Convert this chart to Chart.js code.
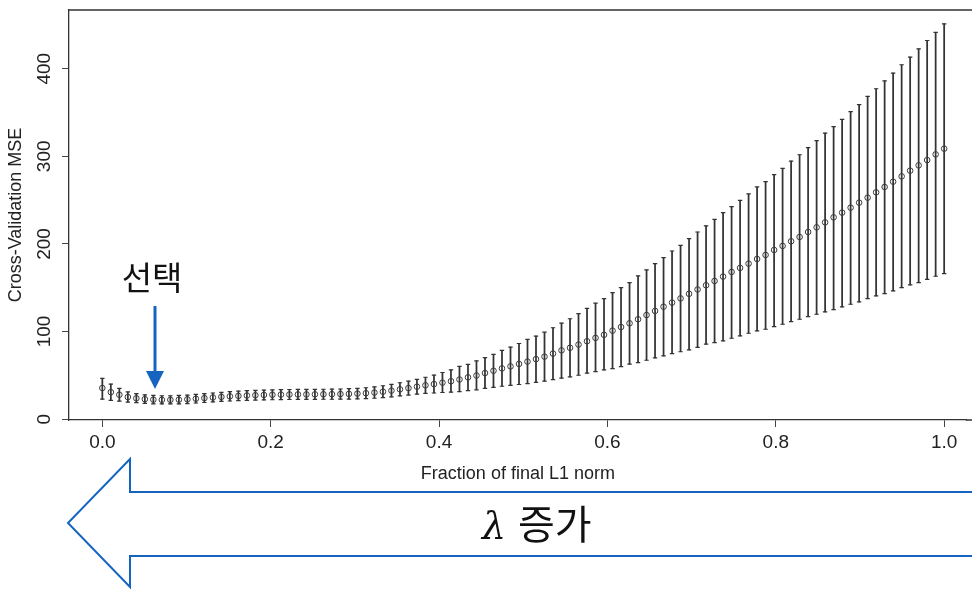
<!DOCTYPE html>
<html>
<head>
<meta charset="utf-8">
<script src="https://cdn.jsdelivr.net/npm/chart.js@4.4.1/dist/chart.umd.min.js"></script>
<style>
  body { margin: 0; background: #fff; }
  #wrap { position: relative; width: 972px; height: 589px; }
  #note { position: absolute; left: 0; top: 0; }
</style>
</head>
<body>
<div id="wrap">
  <canvas id="cvChart" width="972" height="589"></canvas>
  <svg id="note" width="972" height="589" viewBox="0 0 972 589">
    <text x="152" y="290" font-family="Noto Sans CJK KR" font-size="33" text-anchor="middle" fill="#111">선택</text>
    <line x1="155" y1="306" x2="155" y2="373" stroke="#1565c0" stroke-width="3"/>
    <polygon points="146,371 164,371 155,389" fill="#1565c0"/>
    <polygon points="68,523 130,459 130,492 985,492 985,556 130,556 130,587" fill="none" stroke="#1565c0" stroke-width="2"/>
    <text x="482" y="539" font-family="DejaVu Serif" font-style="italic" font-size="38" fill="#111">λ</text>
    <text x="518" y="539" font-family="Noto Sans CJK KR" font-size="40" fill="#111">증가</text>
  </svg>
</div>
<script>
// fraction of final L1 norm: 100 evenly spaced steps from 0 to 1
var fraction = [];
for (var k = 0; k < 100; k++) fraction.push(k / 99);

// cross-validation MSE (mean) and error bar ends
var cvMse = [
  35.5, 30.8, 27.8, 25.2, 23.8, 22.8, 22.2, 22.0, 22.0, 22.2,
  22.6, 23.3, 24.0, 24.7, 25.4, 26.0, 26.5, 27.0, 27.3, 27.6,
  27.8, 28.0, 28.1, 28.2, 28.2, 28.3, 28.4, 28.5, 28.6, 28.8,
  29.1, 29.6, 30.3, 31.3, 32.5, 34.0, 35.4, 37.0, 38.6, 40.0,
  41.6, 43.3, 45.2, 47.7, 49.8, 52.6, 55.2, 57.9, 60.2, 63.0,
  65.7, 68.5, 71.3, 74.8, 78.5, 81.4, 85.1, 88.9, 92.7, 96.2,
  101.0, 105.1, 109.4, 114.0, 118.8, 123.5, 128.3, 133.0, 137.8, 143.0,
  148.0, 152.8, 157.7, 162.7, 168.0, 172.6, 177.5, 182.8, 187.4, 193.1,
  197.7, 203.0, 207.9, 213.6, 218.9, 224.6, 230.3, 235.7, 241.4, 247.1,
  252.8, 258.9, 265.0, 271.0, 277.1, 283.6, 289.7, 295.7, 302.2, 308.7
];
var cvUpper = [
  46.4, 40.0, 35.0, 31.0, 29.0, 27.7, 27.0, 26.7, 26.7, 27.0,
  27.4, 28.2, 29.0, 29.8, 30.6, 31.3, 31.9, 32.5, 32.8, 33.2,
  33.5, 33.7, 33.8, 33.9, 33.9, 34.0, 34.1, 34.3, 34.4, 34.7,
  35.1, 35.8, 36.8, 38.1, 39.6, 41.5, 43.3, 45.4, 47.8, 50.2,
  53.2, 56.3, 60.1, 62.5, 66.5, 70.3, 73.8, 78.5, 82.1, 86.3,
  91.0, 94.8, 99.2, 104.3, 109.5, 114.6, 120.5, 126.5, 132.3, 137.6,
  144.4, 150.1, 155.8, 163.5, 170.3, 177.5, 184.3, 191.9, 198.4, 206.0,
  213.6, 220.5, 228.1, 235.7, 242.5, 249.7, 257.0, 265.0, 271.0, 279.0,
  286.2, 294.6, 301.8, 309.8, 317.8, 326.5, 333.8, 342.1, 350.9, 358.9,
  368.4, 377.1, 386.2, 395.0, 404.5, 413.2, 422.7, 432.2, 441.4, 451.2
];
var cvLower = [
  22.8, 21.5, 20.5, 19.5, 18.8, 18.0, 17.5, 17.3, 17.3, 17.4,
  17.8, 18.4, 19.0, 19.6, 20.2, 20.7, 21.1, 21.5, 21.8, 22.0,
  22.1, 22.3, 22.4, 22.5, 22.5, 22.6, 22.7, 22.7, 22.8, 22.9,
  23.1, 23.4, 23.8, 24.5, 25.4, 26.5, 27.5, 28.6, 29.4, 29.8,
  30.4, 30.8, 31.5, 32.5, 33.5, 35.0, 36.3, 37.5, 38.5, 39.5,
  40.5, 42.0, 43.3, 45.0, 46.8, 48.3, 50.1, 52.4, 54.3, 56.2,
  57.7, 60.0, 62.7, 64.6, 67.2, 70.0, 72.2, 74.8, 76.9, 79.0,
  82.0, 85.5, 87.4, 89.3, 92.3, 95.0, 98.0, 100.7, 102.6, 105.6,
  108.3, 111.3, 114.0, 117.0, 119.7, 122.4, 125.0, 128.1, 131.1, 133.8,
  137.6, 140.6, 143.3, 146.3, 150.1, 153.2, 155.8, 159.6, 163.1, 166.1
];

var xTicks = [0, 0.2, 0.4, 0.6, 0.8, 1.0];
var yTicks = [0, 100, 200, 300, 400];

var ink = '#333';

// R-style box: top and bottom edges run on to the right edge of the page
var boxEdges = {
  id: 'boxEdges',
  afterDraw: function(chart) {
    var a = chart.chartArea, c = chart.ctx;
    c.save();
    c.strokeStyle = '#333';
    c.lineWidth = 1.3;
    c.beginPath();
    c.moveTo(a.left, a.top);
    c.lineTo(chart.width, a.top);
    c.moveTo(a.right - 1, a.bottom);
    c.lineTo(chart.width, a.bottom);
    c.stroke();
    c.restore();
  }
};

var ctx = document.getElementById('cvChart');
var chart = new Chart(ctx, {
  type: 'scatter',
  data: {
    datasets: [{
        type: 'bar',
        data: fraction.map(function(x, i) { return {x: x, y: [cvLower[i], cvUpper[i]]}; }),
        backgroundColor: ink,
        borderWidth: 0,
        barThickness: 1.1,
        order: 3
      }, {
        data: fraction.map(function(x, i) { return {x: x, y: cvUpper[i]}; }),
        pointStyle: 'line',
        pointRadius: 2.2,
        borderColor: ink,
        borderWidth: 1.2,
        order: 2
      }, {
        data: fraction.map(function(x, i) { return {x: x, y: cvLower[i]}; }),
        pointStyle: 'line',
        pointRadius: 2.2,
        borderColor: ink,
        borderWidth: 1.2,
        order: 2
      }, {
        data: fraction.map(function(x, i) { return {x: x, y: cvMse[i]}; }),
        pointStyle: 'circle',
        pointRadius: 2.8,
        borderColor: '#3a3a3a',
        backgroundColor: 'rgba(0,0,0,0)',
        borderWidth: 1,
        order: 1
      }
    ]
  },
  options: {
    responsive: false,
    animation: false,
    events: [],
    layout: { padding: { top: 10, left: 0, right: 0, bottom: 99 } },
    plugins: { legend: { display: false }, tooltip: { enabled: false } },
    scales: {
      x: {
        type: 'linear',
        offset: false,
        min: -0.0396,
        max: 1.0269,
        afterBuildTicks: function(s) { s.ticks = xTicks.map(function(v) { return {value: v}; }); },
        afterFit: function(s) { s.height = 70; s.paddingLeft = 0; s.paddingRight = 0; },
        grid: { display: true, offset: false, drawOnChartArea: false, drawTicks: true, tickLength: 7, color: '#444' },
        border: { display: true, color: '#333', width: 1.3 },
        ticks: {
          padding: 4,
          color: '#222',
          font: { family: 'Liberation Sans', size: 19 },
          callback: function(v) { return v.toFixed(1); }
        },
        title: {
          display: true,
          text: 'Fraction of final L1 norm',
          color: '#222',
          font: { family: 'Liberation Sans', size: 18 },
          padding: { top: 0, bottom: 5 }
        }
      },
      y: {
        type: 'linear',
        min: -1,
        max: 467,
        afterBuildTicks: function(s) { s.ticks = yTicks.map(function(v) { return {value: v}; }); },
        afterFit: function(s) { s.width = 69; s.paddingTop = 0; s.paddingBottom = 0; },
        grid: { display: true, drawOnChartArea: false, drawTicks: true, tickLength: 7, color: '#444' },
        border: { display: true, color: '#333', width: 1.3 },
        ticks: {
          padding: 1,
          minRotation: 90,
          maxRotation: 90,
          crossAlign: 'center',
          color: '#222',
          font: { family: 'Liberation Sans', size: 19 }
        },
        title: {
          display: true,
          text: 'Cross-Validation MSE',
          color: '#222',
          font: { family: 'Liberation Sans', size: 18 },
          padding: { top: 5, bottom: 0 }
        }
      }
    }
  },
  plugins: [boxEdges]
});
</script>
</body>
</html>
